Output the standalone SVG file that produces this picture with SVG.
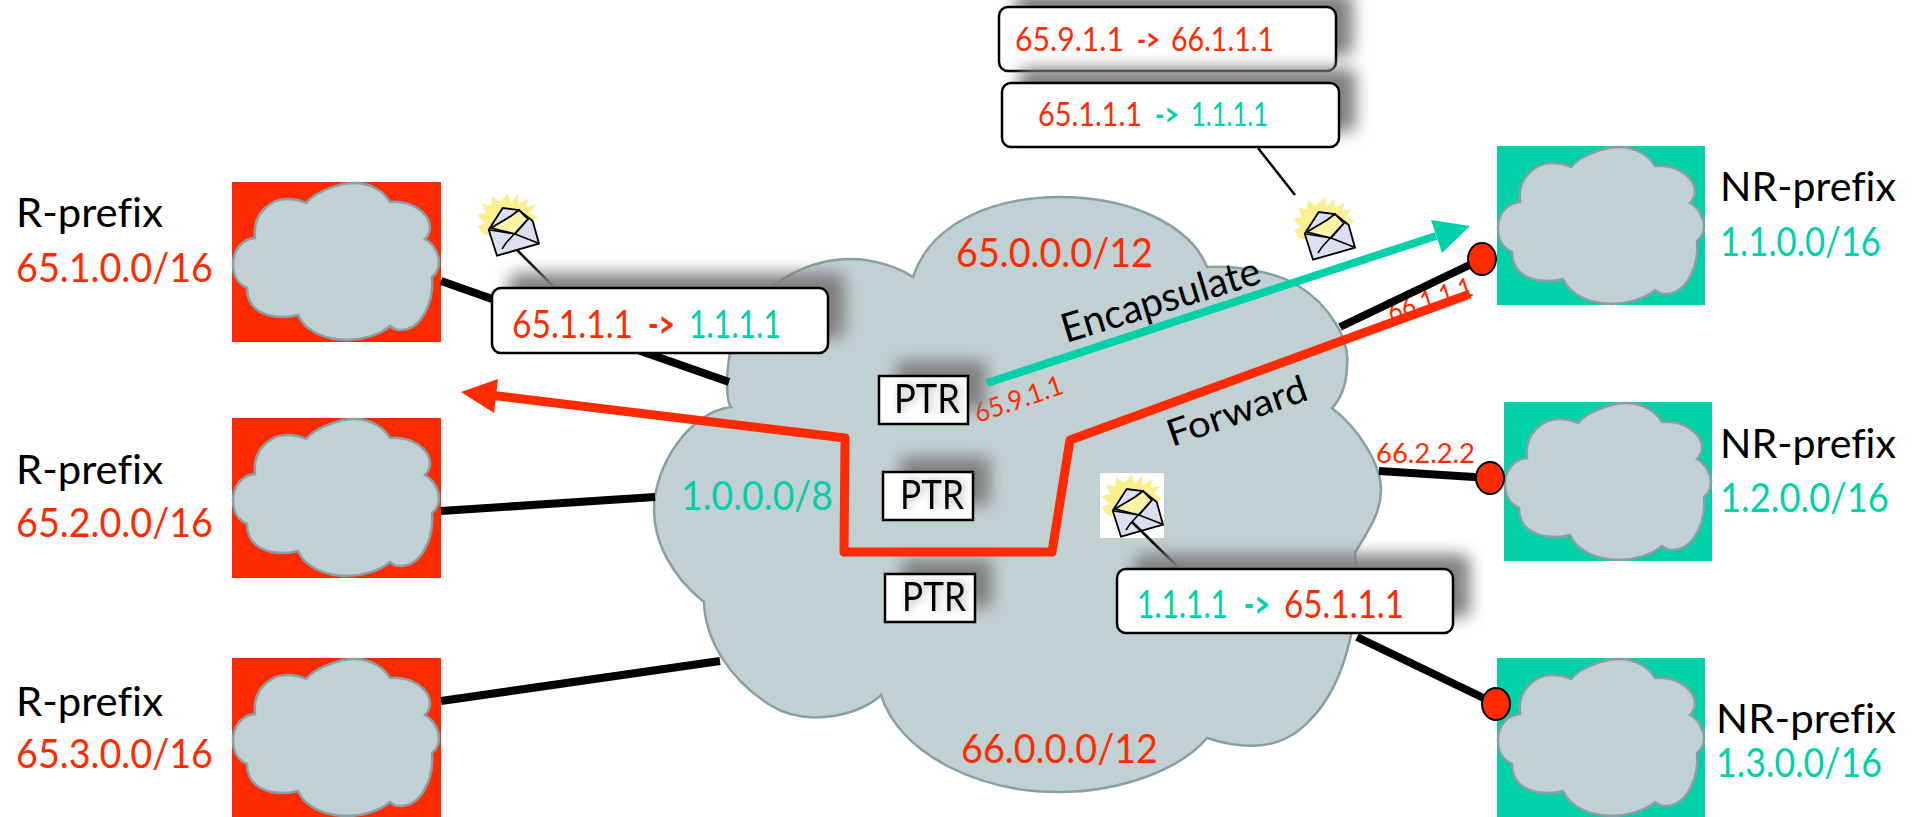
<svg xmlns="http://www.w3.org/2000/svg" width="1921" height="817" viewBox="0 0 1921 817">
<style>
text{font-family:"Lato","Open Sans","Liberation Sans",sans-serif;font-size:40px;font-variant-ligatures:none}
.r{fill:#ff2a00}.g{fill:#00d1a8}.k{fill:#000}
.sm{font-size:27px}
.m{font-size:33px}
.l{font-size:39px}
.b{font-weight:700}
.cl{fill:#c1d0d3;stroke:#86a0a6;stroke-width:2.5}
.wire{fill:none;stroke:#000;stroke-width:8}
.dot{fill:#ff2a00;stroke:#000;stroke-width:2}
.lead{stroke:#000;stroke-width:2.5;fill:none}
.box{fill:#fff;stroke:#000;stroke-width:2.5}
.sh{fill:#808080;filter:url(#blur)}
.ptr{fill:#fff;stroke:#000;stroke-width:2.5}
</style>
<defs>
<filter id="blur" x="-30%" y="-60%" width="160%" height="220%"><feGaussianBlur stdDeviation="8"/></filter>
<filter id="ts" x="-30%" y="-30%" width="160%" height="160%"><feDropShadow dx="3" dy="0" stdDeviation="4" flood-color="#000" flood-opacity=".3"/></filter>
<path id="sc" d="M74 21C85 8 110 1 122 1C140 1 152 10 158 20C178 18 198 30 198 46C198 50 196 54 193 57C202 62 207 72 207 80C207 86 204 92 200 95C202 120 190 148 168 148C164 148 160 146 158 144C148 153 130 158 115 158C92 158 72 148 66 133C50 138 15 136 15 106C5 102 1 92 1 82C1 68 10 57 23 56C20 30 40 17 55 17C63 17 70 19 74 21Z"/>
<g id="mail">
<polygon points="32,0 35,10 42,1 43,11 53,5 50,14 60,12 54,20 62,24 56,28 60,36 50,38 30,50 6,40 2,33 9,30 1,22 10,20 6,10 15,13 16,3 24,9" fill="#fbf08f"/>
<polygon points="12.7,36.7 26.7,15 43,17 56.7,28 63,50.7 21,62.7" fill="#dcdff0" stroke="#000" stroke-width="1.8"/>
<polygon points="15,35 35,23 43,17 52,26 39,41" fill="#f9f3a8" stroke="#000" stroke-width="1.8"/>
<path d="M12.7 36.7L39 41L62 50M52 26L30 50L26 56" fill="none" stroke="#000" stroke-width="1.5"/>
</g>
</defs>
<rect width="1921" height="817" fill="#fff"/>

<g id="r1"><rect x="232" y="182" width="209" height="160" class="r"/><use href="#sc" x="232" y="182" class="cl"/><text x="16" y="227" class="k" textLength="147" lengthAdjust="spacingAndGlyphs">R-prefix</text><text x="16" y="282" class="r" textLength="197" lengthAdjust="spacingAndGlyphs">65.1.0.0/16</text></g>
<g id="r2"><rect x="232" y="418" width="209" height="160" class="r"/><use href="#sc" x="232" y="418" class="cl"/><text x="16" y="484" class="k" textLength="147" lengthAdjust="spacingAndGlyphs">R-prefix</text><text x="16" y="537" class="r" textLength="197" lengthAdjust="spacingAndGlyphs">65.2.0.0/16</text></g>
<g id="r3"><rect x="232" y="658" width="209" height="159" class="r"/><use href="#sc" x="232" y="658" class="cl"/><text x="16" y="716" class="k" textLength="147" lengthAdjust="spacingAndGlyphs">R-prefix</text><text x="16" y="768" class="r" textLength="197" lengthAdjust="spacingAndGlyphs">65.3.0.0/16</text></g>
<g id="nr1"><rect x="1497" y="146" width="208" height="159" class="g"/><use href="#sc" x="1497" y="146" class="cl"/><text x="1720" y="201" class="k" textLength="176" lengthAdjust="spacingAndGlyphs">NR-prefix</text><text x="1720" y="256" class="g" textLength="161" lengthAdjust="spacingAndGlyphs">1.1.0.0/16</text></g>
<g id="nr2"><rect x="1504" y="402" width="208" height="159" class="g"/><use href="#sc" x="1504" y="402" class="cl"/><text x="1720" y="458" class="k" textLength="176" lengthAdjust="spacingAndGlyphs">NR-prefix</text><text x="1720" y="512" class="g" textLength="169" lengthAdjust="spacingAndGlyphs">1.2.0.0/16</text></g>
<g id="nr3"><rect x="1497" y="658" width="208" height="159" class="g"/><use href="#sc" x="1497" y="658" class="cl"/><text x="1716" y="733" class="k" textLength="180" lengthAdjust="spacingAndGlyphs">NR-prefix</text><text x="1716" y="777" class="g" textLength="166" lengthAdjust="spacingAndGlyphs">1.3.0.0/16</text></g>

<g id="core">
<path class="cl" d="M913 277C930 225 990 197 1060 197C1130 197 1190 225 1207 267C1245 265 1280 275 1297 285C1330 305 1350 340 1347 365C1347 385 1340 400 1332 408C1360 430 1381 465 1381 490C1381 515 1365 535 1355 553C1362 600 1350 680 1310 720C1290 742 1260 755 1207 738C1180 770 1120 792 1058 792C980 792 900 755 881 695C865 712 810 730 770 705C730 680 705 640 704 602C670 575 654 540 654 510C654 465 690 412 731 407C724 400 725 340 745 315C770 280 810 259 851 259C875 259 900 268 913 277Z"/>
<text x="956" y="267" class="r" textLength="197" lengthAdjust="spacingAndGlyphs">65.0.0.0/12</text>
<text x="681" y="510" class="g" textLength="152" lengthAdjust="spacingAndGlyphs">1.0.0.0/8</text>
<text x="961" y="763" class="r" textLength="197" lengthAdjust="spacingAndGlyphs">66.0.0.0/12</text>
<text transform="translate(1066 343) rotate(-17)" class="k" textLength="206" lengthAdjust="spacingAndGlyphs">Encapsulate</text>
<text transform="translate(1172 447) rotate(-19)" class="k" textLength="146" lengthAdjust="spacingAndGlyphs" style="font-size:37px">Forward</text>
<text transform="translate(978 423) rotate(-19)" class="r sm" textLength="92" lengthAdjust="spacingAndGlyphs">65.9.1.1</text>
<text transform="translate(1391 322) rotate(-18)" class="r sm" textLength="88" lengthAdjust="spacingAndGlyphs">66.1.1.1</text>
<text x="1376" y="463" class="r sm" textLength="99" lengthAdjust="spacingAndGlyphs">66.2.2.2</text>
</g>

<g id="ptr1"><rect x="896" y="361" width="90" height="48" class="sh"/><rect x="879" y="376" width="89" height="48" class="ptr"/><text x="894" y="413" class="k" textLength="66" lengthAdjust="spacingAndGlyphs" filter="url(#ts)">PTR</text></g>
<g id="ptr2"><rect x="900" y="457" width="90" height="48" class="sh"/><rect x="883" y="472" width="90" height="48" class="ptr"/><text x="900" y="509" class="k" textLength="64" lengthAdjust="spacingAndGlyphs" filter="url(#ts)">PTR</text></g>
<g id="ptr3"><rect x="902" y="559" width="90" height="48" class="sh"/><rect x="885" y="574" width="90" height="48" class="ptr"/><text x="902" y="611" class="k" textLength="64" lengthAdjust="spacingAndGlyphs" filter="url(#ts)">PTR</text></g>

<g id="connectors">
<path class="wire" d="M441 281L729 382"/>
<path class="wire" d="M441 511L655 497"/>
<path class="wire" d="M441 701L720 661"/>
<path class="wire" d="M1340 327L1482 259"/>
<path class="wire" d="M1379 471L1490 478"/>
<path class="wire" d="M1357 637L1496 704"/>
<ellipse class="dot" cx="1482" cy="259" rx="14" ry="16"/>
<ellipse class="dot" cx="1490" cy="478" rx="14" ry="16"/>
<ellipse class="dot" cx="1496" cy="704" rx="14" ry="16"/>
<path d="M987 383L1436 236" fill="none" stroke="#00d1a8" stroke-width="8"/>
<polygon points="1470,226 1431,220 1442,253" fill="#00d1a8"/>
<path d="M490 395L845 438L844 552L1052 552L1070 440L1470 294" fill="none" stroke="#ff2a00" stroke-width="9" stroke-linejoin="round"/>
<polygon points="461,392 498,379 494,413" fill="#ff2a00"/>
<path class="lead" d="M510 243L554 287"/>
<path class="lead" d="M1258 148L1295 195"/>
</g>

<g id="packet1"><use href="#mail" x="476" y="193"/></g>
<g id="packet2"><use href="#mail" x="1292" y="197"/></g>
<g id="packet3"><rect x="1100" y="473" width="64" height="65" fill="#fff"/><use href="#mail" x="1100" y="474"/><path class="lead" d="M1132 522L1178 567"/></g>

<g id="msg-top"><rect x="1016" y="-8" width="337" height="64" rx="9" class="sh"/><rect x="999" y="7" width="337" height="64" rx="9" class="box"/><text x="1015" y="51" class="r m" textLength="109" lengthAdjust="spacingAndGlyphs">65.9.1.1</text><text x="1137" y="51" class="r m b" textLength="23" lengthAdjust="spacingAndGlyphs">-&gt;</text><text x="1171" y="51" class="r m" textLength="103" lengthAdjust="spacingAndGlyphs">66.1.1.1</text></g>
<g id="msg-encap"><rect x="1019" y="68" width="337" height="64" rx="9" class="sh"/><rect x="1002" y="83" width="337" height="64" rx="9" class="box"/><text x="1038" y="126" class="r m" textLength="104" lengthAdjust="spacingAndGlyphs">65.1.1.1</text><text x="1155" y="126" class="g m b" textLength="24" lengthAdjust="spacingAndGlyphs">-&gt;</text><text x="1191" y="126" class="g m" textLength="77" lengthAdjust="spacingAndGlyphs">1.1.1.1</text></g>
<g id="msg-src"><rect x="509" y="273" width="336" height="65" rx="9" class="sh"/><rect x="492" y="288" width="336" height="65" rx="9" class="box"/><text x="512" y="338" class="r l" textLength="121" lengthAdjust="spacingAndGlyphs">65.1.1.1</text><text x="648" y="338" class="r l b" textLength="27" lengthAdjust="spacingAndGlyphs">-&gt;</text><text x="689" y="338" class="g l" textLength="92" lengthAdjust="spacingAndGlyphs">1.1.1.1</text></g>
<g id="msg-ret"><rect x="1134" y="554" width="336" height="64" rx="9" class="sh"/><rect x="1117" y="569" width="336" height="64" rx="9" class="box"/><text x="1137" y="618" class="g l" textLength="91" lengthAdjust="spacingAndGlyphs">1.1.1.1</text><text x="1244" y="618" class="g l b" textLength="26" lengthAdjust="spacingAndGlyphs">-&gt;</text><text x="1284" y="618" class="r l" textLength="120" lengthAdjust="spacingAndGlyphs">65.1.1.1</text></g>
</svg>
